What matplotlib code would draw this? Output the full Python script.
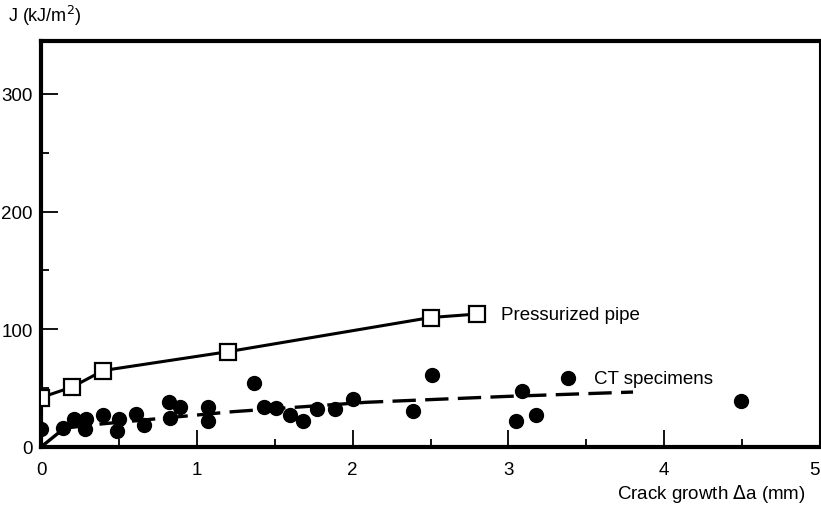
import matplotlib.pyplot as plt
from matplotlib.ticker import MultipleLocator

plt.rcParams['font.family'] = ['Liberation Sans', 'DejaVu Sans']

# pressurized pipe (open squares)
pipe_da = [0.0, 0.2, 0.4, 1.2, 2.5, 2.8]
pipe_j = [42, 51, 65, 81, 110, 113]

# CT specimens (filled dots)
ct_da = [0.00, 0.14, 0.21, 0.28, 0.29, 0.40, 0.49, 0.50, 0.61, 0.66,
         0.82, 0.83, 0.89, 1.07, 1.07, 1.37, 1.43, 1.51, 1.60, 1.68,
         1.77, 1.89, 2.00, 2.39, 2.51, 3.05, 3.09, 3.18, 3.38, 4.49]
ct_j = [15, 16, 24, 15, 24, 27, 14, 24, 28, 19,
        38, 25, 34, 34, 22, 54, 34, 33, 27, 22,
        32, 32, 41, 31, 61, 22, 48, 27, 59, 39]

# dashed trend through CT data
fit_da = [0.0, 0.15, 0.38, 1.23, 2.09, 2.99, 3.8]
fit_j = [0, 16, 19.5, 30, 38, 43, 46.7]

x_ticks = [0, 1, 2, 3, 4, 5]
y_ticks = [0, 100, 200, 300]

fig = plt.figure(figsize=(8.21, 5.10), dpi=100)
ax = fig.add_axes([41/821, 62/510, 779/821, 406/510])

ax.plot(fit_da, fit_j, color='black', lw=2.4, ls=(0, (7, 2.8)), zorder=2)
ax.plot(ct_da, ct_j, 'o', color='black', ms=10, zorder=3)
ax.plot(pipe_da, pipe_j, '-s', color='black', lw=2.2, ms=12,
        mfc='white', mec='black', mew=1.6, zorder=4)

ax.set_xlim(0, 5)
ax.set_ylim(0, 345)
ax.set_xticks(x_ticks)
ax.set_yticks(y_ticks)
ax.xaxis.set_minor_locator(MultipleLocator(0.5))
ax.yaxis.set_minor_locator(MultipleLocator(50))
ax.tick_params(which='both', direction='in', width=1.3, labelsize=13.5)
ax.tick_params(which='major', length=12)
ax.tick_params(which='minor', length=6)
ax.tick_params(axis='x', pad=10)
ax.tick_params(axis='y', pad=6)

# keep the "5" inside the figure edge
ax.xaxis.get_major_ticks()[-1].label1.set_horizontalalignment('right')

for s in ['left', 'bottom', 'top']:
    ax.spines[s].set_linewidth(3)
ax.spines['right'].set_linewidth(1.5)

ax.text(2.95, 113, 'Pressurized pipe', fontsize=13.5, va='center')
ax.text(3.55, 58, 'CT specimens', fontsize=13.5, va='center')

fig.text(8/821, 1 - 16/510, 'J (kJ/m$^2$)', fontsize=13, va='center')
fig.text(806/821, 1 - 494/510, 'Crack growth $\\Delta$a (mm)', fontsize=13.5,
         va='center', ha='right')

fig.savefig('out.png', dpi=100)
